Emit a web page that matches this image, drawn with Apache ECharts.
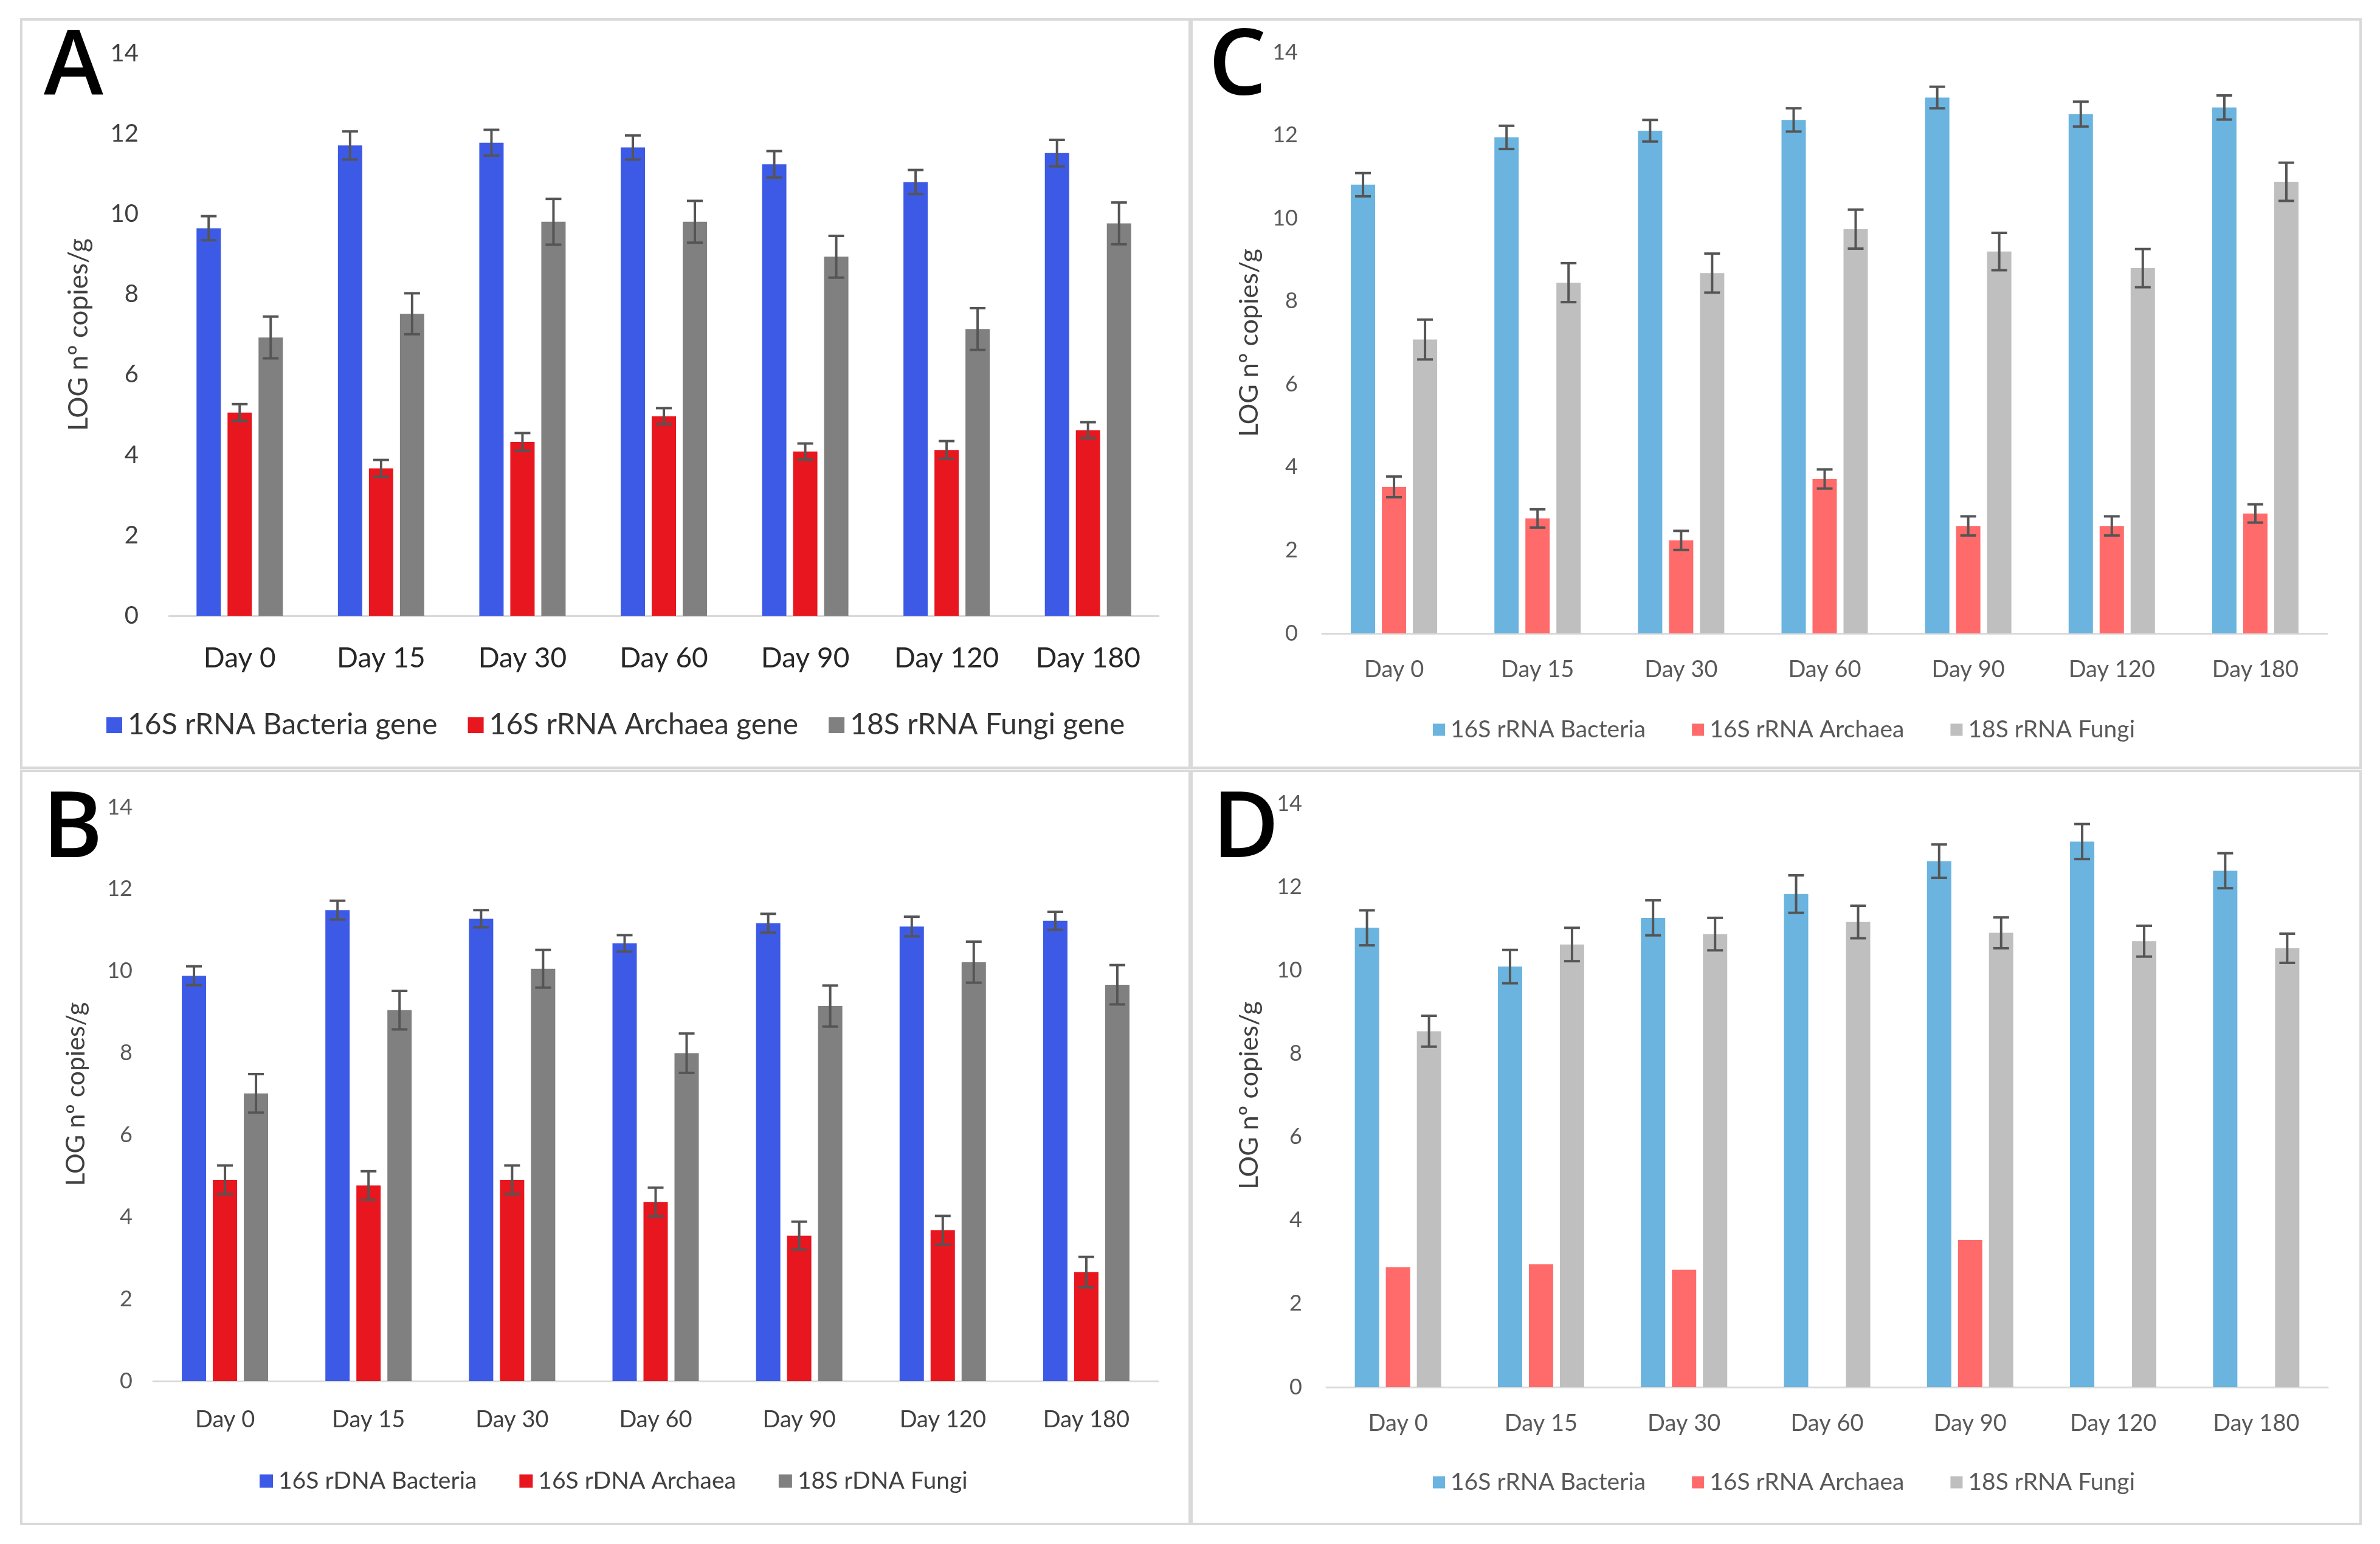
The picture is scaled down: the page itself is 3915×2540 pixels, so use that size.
<!DOCTYPE html>
<html>
<head>
<meta charset="utf-8">
<script src="https://cdn.jsdelivr.net/npm/echarts@6/dist/echarts.min.js"></script>
<style>
html,body{margin:0;padding:0;background:#fff;}
#chart{width:3915px;height:2540px;}
</style>
</head>
<body>
<div id="chart"></div>
<script>
// ---------- data ----------
const categories = ['Day 0', 'Day 15', 'Day 30', 'Day 60', 'Day 90', 'Day 120', 'Day 180'];
const yAxisTitle = 'LOG nº copies/g';

// Panel A
const aBacteria    = [9.65, 11.71, 11.78, 11.66, 11.24, 10.80, 11.52];
const aBacteriaErr = [0.30, 0.35, 0.32, 0.30, 0.33, 0.30, 0.33];
const aArchaea     = [5.06, 3.67, 4.33, 4.97, 4.09, 4.13, 4.62];
const aArchaeaErr  = [0.21, 0.21, 0.22, 0.20, 0.20, 0.22, 0.20];
const aFungi       = [6.93, 7.52, 9.81, 9.81, 8.94, 7.14, 9.77];
const aFungiErr    = [0.52, 0.51, 0.57, 0.52, 0.52, 0.52, 0.52];
const aNames = ['16S rRNA Bacteria gene', '16S rRNA Archaea gene', '18S rRNA Fungi gene'];

// Panel B
const bBacteria    = [9.89, 11.49, 11.28, 10.68, 11.17, 11.09, 11.23];
const bBacteriaErr = [0.23, 0.23, 0.21, 0.20, 0.23, 0.24, 0.22];
const bArchaea     = [4.91, 4.77, 4.91, 4.37, 3.55, 3.68, 2.66];
const bArchaeaErr  = [0.35, 0.35, 0.35, 0.35, 0.34, 0.35, 0.37];
const bFungi       = [7.02, 9.05, 10.06, 8.00, 9.15, 10.22, 9.67];
const bFungiErr    = [0.47, 0.47, 0.46, 0.48, 0.50, 0.50, 0.48];
const bNames = ['16S rDNA Bacteria', '16S rDNA Archaea', '18S rDNA Fungi'];

// Panel C
const cBacteria    = [10.81, 11.95, 12.11, 12.37, 12.91, 12.51, 12.67];
const cBacteriaErr = [0.28, 0.28, 0.26, 0.28, 0.26, 0.30, 0.29];
const cArchaea     = [3.53, 2.77, 2.24, 3.72, 2.59, 2.59, 2.89];
const cArchaeaErr  = [0.25, 0.22, 0.23, 0.23, 0.23, 0.23, 0.22];
const cFungi       = [7.08, 8.45, 8.68, 9.74, 9.20, 8.80, 10.88];
const cFungiErr    = [0.48, 0.47, 0.47, 0.47, 0.45, 0.46, 0.46];
const cNames = ['16S rRNA Bacteria', '16S rRNA Archaea', '18S rRNA Fungi'];

// Panel D
const dBacteria    = [11.02, 10.09, 11.26, 11.83, 12.62, 13.09, 12.39];
const dBacteriaErr = [0.42, 0.40, 0.42, 0.45, 0.40, 0.42, 0.42];
const dArchaea     = [2.88, 2.95, 2.82, null, 3.53, null, null];
const dFungi       = [8.54, 10.62, 10.87, 11.16, 10.90, 10.70, 10.53];
const dFungiErr    = [0.37, 0.40, 0.39, 0.39, 0.37, 0.37, 0.35];
const dNames = ['16S rRNA Bacteria', '16S rRNA Archaea', '18S rRNA Fungi'];

// ---------- styling ----------
const FONT = 'Lato';
const darkColors  = ['#3D5AE6', '#E8161E', '#808080'];
const lightColors = ['#6AB4DF', '#FF6B6B', '#BFBFBF'];
const BAR_W = 40, BAR_GAP = 11;

const panels = [
  { key: 'A', grid: { left: 278, top: 88, width: 1628, height: 925 }, colors: darkColors, names: aNames,
    series: [[aBacteria, aBacteriaErr], [aArchaea, aArchaeaErr], [aFungi, aFungiErr]],
    tickFont: 40, tickColor: '#404040', tickMargin: 50, catFont: 46, catColor: '#262626', catMargin: 47,
    titleFont: 44, titleGap: 126, legend: { left: 170, top: 1164, itemW: 26, font: 48, color: '#333', gap: 50 },
    letter: { x: 72, y: 40, size: 148 } },
  { key: 'B', grid: { left: 252, top: 1328, width: 1653, height: 944 }, colors: darkColors, names: bNames,
    series: [[bBacteria, bBacteriaErr], [bArchaea, bArchaeaErr], [bFungi, bFungiErr]],
    tickFont: 36, tickColor: '#595959', tickMargin: 34, catFont: 38, catColor: '#404040', catMargin: 45,
    titleFont: 42, titleGap: 106, legend: { left: 422, top: 2412, itemW: 22, font: 39, color: '#404040', gap: 70 },
    letter: { x: 70, y: 1292, size: 150 } },
  { key: 'C', grid: { left: 2175, top: 86, width: 1653, height: 956 }, colors: lightColors, names: cNames,
    series: [[cBacteria, cBacteriaErr], [cArchaea, cArchaeaErr], [cFungi, cFungiErr]],
    tickFont: 36, tickColor: '#595959', tickMargin: 40, catFont: 38, catColor: '#595959', catMargin: 41,
    titleFont: 43, titleGap: 98, legend: { left: 2352, top: 1176, itemW: 20, font: 39, color: '#595959', gap: 76 },
    letter: { x: 1988, y: 38, size: 150 } },
  { key: 'D', grid: { left: 2182, top: 1322, width: 1647, height: 960 }, colors: lightColors, names: dNames,
    series: [[dBacteria, dBacteriaErr], [dArchaea, null], [dFungi, dFungiErr]],
    tickFont: 36, tickColor: '#595959', tickMargin: 40, catFont: 38, catColor: '#595959', catMargin: 41,
    titleFont: 43, titleGap: 105, legend: { left: 2352, top: 2414, itemW: 20, font: 39, color: '#595959', gap: 76 },
    letter: { x: 1994, y: 1292, size: 150 } }
];

function errorRender(offset) {
  return function (params, api) {
    const i = api.value(0), v = api.value(1), e = api.value(2);
    if (v == null || isNaN(v) || e == null || isNaN(e)) return null;
    const top = api.coord([i, v + e]);
    const bot = api.coord([i, v - e]);
    const x = top[0] + offset;
    const hw = 13;
    const st = { stroke: '#555555', lineWidth: 4 };
    return {
      type: 'group',
      children: [
        { type: 'line', shape: { x1: x, y1: top[1], x2: x, y2: bot[1] }, style: st },
        { type: 'line', shape: { x1: x - hw, y1: top[1], x2: x + hw, y2: top[1] }, style: st },
        { type: 'line', shape: { x1: x - hw, y1: bot[1], x2: x + hw, y2: bot[1] }, style: st }
      ]
    };
  };
}

const grids = [], xAxes = [], yAxes = [], series = [], legends = [], graphics = [];

panels.forEach((p, pi) => {
  grids.push(Object.assign({ outerBoundsMode: 'none', containLabel: false }, p.grid));
  xAxes.push({
    type: 'category', gridIndex: pi, data: categories,
    axisLine: { lineStyle: { color: '#D9D9D9', width: 3 } },
    axisTick: { show: false },
    axisLabel: { fontFamily: FONT, fontSize: p.catFont, color: p.catColor, margin: p.catMargin }
  });
  yAxes.push({
    type: 'value', gridIndex: pi, min: 0, max: 14, interval: 2,
    axisLine: { show: false }, axisTick: { show: false }, splitLine: { show: false },
    axisLabel: { fontFamily: FONT, fontSize: p.tickFont, color: p.tickColor, margin: p.tickMargin },
    name: yAxisTitle, nameLocation: 'middle', nameRotate: 90, nameGap: p.titleGap,
    nameTextStyle: { fontFamily: FONT, fontSize: p.titleFont, color: '#404040' }
  });
  p.series.forEach((s, si) => {
    series.push({
      type: 'bar', name: p.names[si], xAxisIndex: pi, yAxisIndex: pi,
      data: s[0], barWidth: BAR_W, barGap: (BAR_GAP / BAR_W * 100) + '%',
      itemStyle: { color: p.colors[si] }, animation: false
    });
    if (s[1]) {
      series.push({
        type: 'custom', xAxisIndex: pi, yAxisIndex: pi, z: 5, animation: false,
        renderItem: errorRender((si - 1) * (BAR_W + BAR_GAP)),
        encode: { x: 0, y: 1 },
        data: s[0].map((v, i) => [i, v, s[1][i]])
      });
    }
  });
  legends.push({
    data: p.names.map(n => ({ name: n, itemStyle: { color: p.colors[p.names.indexOf(n)] } })),
    left: p.legend.left, top: p.legend.top, orient: 'horizontal',
    icon: 'rect', itemWidth: p.legend.itemW, itemHeight: p.legend.itemW, itemGap: p.legend.gap,
    textStyle: { fontFamily: FONT, fontSize: p.legend.font, color: p.legend.color, padding: [0, 0, 0, 4] },
    selectedMode: false
  });
  graphics.push({
    type: 'text', left: p.letter.x, top: p.letter.y,
    style: { text: p.key, fontFamily: 'Open Sans', fontSize: p.letter.size, fontWeight: 600, fill: '#000' }
  });
});

// panel frames
[[35, 32, 1922, 1231], [1960, 32, 1923, 1231], [35, 1268, 1922, 1239], [1960, 1268, 1923, 1239]].forEach(r => {
  graphics.push({
    type: 'rect', shape: { x: r[0], y: r[1], width: r[2], height: r[3] },
    style: { fill: 'none', stroke: '#D9D9D9', lineWidth: 4 }, z: -1
  });
});

const chart = echarts.init(document.getElementById('chart'));
chart.setOption({
  backgroundColor: '#ffffff',
  animation: false,
  grid: grids, xAxis: xAxes, yAxis: yAxes, series: series, legend: legends, graphic: graphics
});
</script>
</body>
</html>
